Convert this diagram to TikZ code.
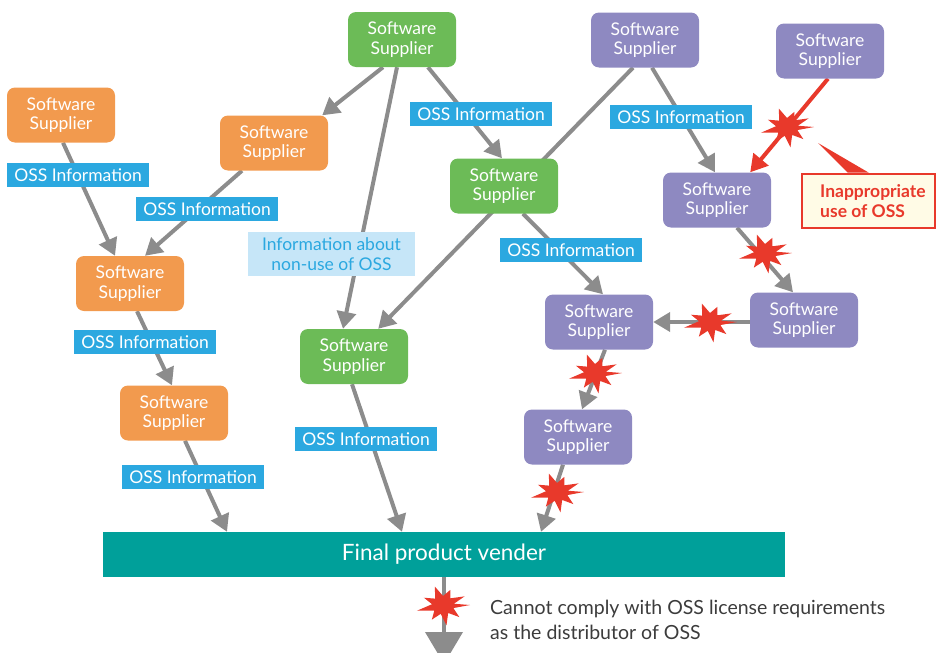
\documentclass[tikz,border=0pt]{standalone}
\usepackage{fontspec}
\setmainfont{Lato}
\usetikzlibrary{arrows.meta,backgrounds}
\definecolor{cOrange}{HTML}{F29A4E}
\definecolor{cGreen}{HTML}{6CBB57}
\definecolor{cPurple}{HTML}{8E89C1}
\definecolor{cBlue}{HTML}{2BA8E0}
\definecolor{cLight}{HTML}{C6E6F8}
\definecolor{cTeal}{HTML}{00A09A}
\definecolor{cGray}{HTML}{8C8C8C}
\definecolor{cRed}{HTML}{E8392B}
\definecolor{cCream}{HTML}{FFFBE6}
\definecolor{cText}{HTML}{3C3C3C}
\tikzset{
  sup/.style={rounded corners=8pt, minimum width=108pt, minimum height=55pt, inner sep=0pt,
    text=white, align=center, font=\fontsize{17.5}{19.5}\selectfont},
  orangebox/.style={sup, fill=cOrange},
  greenbox/.style={sup, fill=cGreen},
  purplebox/.style={sup, fill=cPurple},
  info/.style={fill=cBlue, text=white, minimum width=142pt, minimum height=24pt, inner sep=0pt,
    font=\fontsize{17.5}{19}\selectfont},
  conn/.style={draw=cGray, line width=4pt, -{Triangle[length=17pt,width=19pt]}},
  redconn/.style={draw=cRed, line width=4pt, -{Triangle[length=17pt,width=19pt]}},
  burst/.pic={\fill[cRed, yscale=0.82] (0:27) -- (20:11) -- (42:22) -- (62:11) -- (82:25) -- (102:11)
     -- (122:21) -- (142:11) -- (165:27) -- (185:11) -- (205:21) -- (225:11) -- (250:24)
     -- (270:11) -- (292:20) -- (312:11) -- (334:24) -- (352:11) -- cycle;}
}
\begin{document}
\begin{tikzpicture}[x=1pt,y=-1pt]
\useasboundingbox (0,0) rectangle (937,653);
\clip (0,0) rectangle (937,653);
% nodes
\node[orangebox] (O1) at (61,115) {Software\\Supplier};
\node[orangebox] (O2) at (274,143) {Software\\Supplier};
\node[orangebox] (O3) at (130,283.5) {Software\\Supplier};
\node[orangebox] (O4) at (174,413) {Software\\Supplier};
\node[greenbox] (G1) at (402,39.5) {Software\\Supplier};
\node[greenbox] (G2) at (504,186) {Software\\Supplier};
\node[greenbox] (G3) at (354,356.5) {Software\\Supplier};
\node[purplebox] (P1) at (645,40) {Software\\Supplier};
\node[purplebox] (P2) at (830,51) {Software\\Supplier};
\node[purplebox] (P3) at (717,200) {Software\\Supplier};
\node[purplebox] (P4) at (804,320) {Software\\Supplier};
\node[purplebox] (P5) at (599,322) {Software\\Supplier};
\node[purplebox] (P6) at (578,437) {Software\\Supplier};
\node[fill=cTeal, text=white, minimum width=682pt, minimum height=45pt, inner sep=0pt,
  font=\fontsize{22.5}{26}\selectfont] (F) at (444,554.5) {Final product vender};
\coordinate (Fend) at (444,664);
% connectors
\begin{scope}[on background layer]
\draw[conn] ([xshift=2pt]O1.south) -- ([xshift=-15pt]O3.north);
\draw[conn] ([xshift=-32pt]O2.south) -- ([xshift=15pt]O3.north);
\draw[conn] ([xshift=7pt]O3.south) -- ([xshift=-2pt]O4.north);
\draw[conn] ([xshift=11pt]O4.south) -- ([xshift=-217pt]F.north);
\draw[conn] ([xshift=-19pt]G1.south) -- ([xshift=-6pt]O2.north east);
\draw[conn] ([xshift=-5pt]G1.south) -- ([xshift=-11pt]G3.north);
\draw[conn] ([xshift=26pt]G1.south) -- ([xshift=-2pt]G2.north);
\draw[conn] ([xshift=-2pt]G3.south) -- ([xshift=-42pt]F.north);
\draw[conn] ([xshift=-12pt]P1.south) -- ([xshift=-30pt]G3.north east);
\draw[conn] ([xshift=7pt]P1.south) -- ([xshift=-2pt]P3.north);
\draw[conn] ([xshift=19pt]G2.south) -- ([xshift=4pt]P5.north);
\draw[redconn] ([xshift=-2pt]P2.south) -- ([xshift=-21pt]P3.north east);
\draw[conn] ([xshift=20pt]P3.south) -- ([xshift=-11pt]P4.north);
\draw[conn] ([yshift=-2pt]P4.west) -- (P5.east);
\draw[conn] ([xshift=6pt]P5.south) -- ([xshift=4pt]P6.north);
\draw[conn] ([xshift=-15pt]P6.south) -- ([xshift=97pt]F.north);
\draw[draw=cGray, line width=4pt, -{Triangle[length=32pt,width=37pt]}] (F.south) -- (Fend);
\end{scope}
% labels
\node[info] (L1) at (78,175) {OSS Information};
\node[info] (L2) at (207,209) {OSS Information};
\node[info] (L3) at (481,114) {OSS Information};
\node[info] (L4) at (681,117) {OSS Information};
\node[info] (L5) at (571,250) {OSS Information};
\node[info] (L6) at (145,342) {OSS Information};
\node[info] (L7) at (366,439) {OSS Information};
\node[info] (L8) at (193,477) {OSS Information};
\node[fill=cLight, text=cBlue, minimum width=167pt, minimum height=44pt, inner sep=0pt, align=center,
  font=\fontsize{17.5}{19.5}\selectfont] (L9) at (331.5,254) {Information about\\non-use of OSS};
% stars
\pic at (787,127) {burst};
\pic at (765,253) {burst};
\pic at (710,322) {burst};
\pic at (595,373) {burst};
\pic at (557,492) {burst};
\pic at (443,605) {burst};
% callout
\node[draw=cRed, line width=2pt, fill=cCream, minimum width=133pt, minimum height=54pt,
  inner sep=0pt] (C) at (868.5,200.5) {};
\node[anchor=west, text=cRed, inner sep=0pt, align=left, font=\bfseries\fontsize{17.5}{20}\selectfont]
  (Ct) at (820,201) {Inappropriate\\use of OSS};
\fill[cRed] (818,143) -- ([xshift=-21pt]C.north) -- ([xshift=0pt]C.north) -- cycle;
% bottom text
\node[anchor=west, text=cText, align=left, inner sep=0pt, font=\fontsize{19.5}{25}\selectfont]
  (T) at (490,619.5) {Cannot comply with OSS license requirements\\as the distributor of OSS};
\end{tikzpicture}
\end{document}
